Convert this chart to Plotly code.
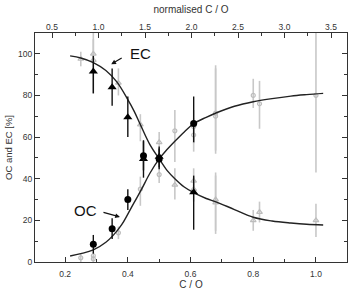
import plotly.graph_objects as go

# ---- data ----
# black: OC (circles) and EC (triangles)
oc_x = [0.29, 0.35, 0.40, 0.45, 0.50, 0.61]
oc_y = [8.5, 16.0, 30.0, 51.0, 49.5, 66.5]
oc_eplus = [4.5, 5.0, 5.0, 7.0, 5.0, 13.0]
oc_eminus = [4.5, 5.0, 5.0, 7.0, 5.0, 9.0]

ec_x = [0.29, 0.35, 0.40, 0.45, 0.50, 0.61]
ec_y = [91.5, 84.0, 69.5, 49.5, 50.5, 33.5]
ec_eplus = [7.5, 9.0, 10.0, 9.0, 5.0, 8.0]
ec_eminus = [10.5, 9.0, 9.5, 9.0, 5.0, 18.0]

# grey: second data set, OC (circles) and EC (triangles)
goc_x = [0.25, 0.29, 0.29, 0.37, 0.44, 0.50, 0.55, 0.61, 0.61, 0.68, 0.68, 0.80, 0.82, 1.00]
goc_y = [2.0, 3.0, 1.5, 14.0, 35.0, 42.0, 63.0, 65.0, 61.0, 71.5, 70.0, 80.0, 76.0, 80.0]
goc_eplus = [2.0, 2.0, 1.5, 3.0, 6.0, 4.0, 10.0, 8.0, 8.0, 23.0, 23.0, 8.0, 11.0, 30.0]
goc_eminus = [2.0, 2.0, 1.5, 3.0, 8.0, 4.0, 15.0, 8.0, 8.0, 18.0, 18.0, 6.0, 12.0, 37.0]

gec_x = [0.25, 0.29, 0.29, 0.37, 0.44, 0.50, 0.55, 0.61, 0.61, 0.68, 0.68, 0.80, 0.82, 1.00]
gec_y = [97.5, 100.0, 97.0, 86.0, 66.0, 57.5, 37.0, 39.0, 35.0, 30.0, 28.5, 20.0, 24.0, 20.0]
gec_eplus = [3.5, 12.0, 10.0, 7.0, 5.0, 5.0, 8.0, 6.0, 6.0, 13.0, 13.0, 5.0, 5.0, 8.0]
gec_eminus = [3.5, 19.0, 16.0, 6.0, 8.0, 5.0, 7.0, 6.0, 6.0, 15.0, 15.0, 5.0, 5.0, 8.0]

# fitted curves
ocfit_x = [0.216, 0.25, 0.29, 0.33, 0.354, 0.38, 0.40, 0.42, 0.444, 0.47, 0.50,
           0.525, 0.55, 0.58, 0.61, 0.65, 0.683, 0.74, 0.80, 0.86, 0.92, 0.97, 1.023]
ocfit_y = [2.9, 4.0, 5.8, 9.5, 12.9, 17.8, 23.0, 28.5, 35.0, 42.5, 49.5,
           54.0, 58.0, 62.5, 66.5, 69.5, 71.7, 74.8, 77.0, 78.5, 79.7, 80.4, 81.0]
ecfit_x = [0.216, 0.25, 0.29, 0.33, 0.365, 0.40, 0.42, 0.44, 0.47, 0.50, 0.525,
           0.55, 0.58, 0.61, 0.65, 0.683, 0.74, 0.80, 0.86, 0.92, 0.97, 1.023]
ecfit_y = [99.0, 98.0, 95.8, 92.0, 86.5, 78.0, 72.5, 66.0, 56.5, 49.5, 44.0,
           40.0, 36.0, 33.3, 30.5, 28.8, 25.2, 21.5, 19.7, 18.7, 18.1, 17.8]

bottom_ticks = [0.2, 0.4, 0.6, 0.8, 1.0]
top_ticks = [0.5, 1.0, 1.5, 2.0, 2.5, 3.0, 3.5]
y_ticks = [0, 20, 40, 60, 80, 100]

GREY = "#bdbdbd"
AX = "#333333"
FONT = "Liberation Sans, Arial, sans-serif"

fig = go.Figure()

def err(p, m, color, w):
    return dict(type="data", array=p, arrayminus=m, symmetric=False,
                color=color, thickness=w, width=0)

fig.add_trace(go.Scatter(x=goc_x, y=goc_y, mode="markers",
                         marker=dict(symbol="circle-open", size=4, color=GREY, line=dict(width=1.2)),
                         error_y=err(goc_eplus, goc_eminus, "#c8c8c8", 1.6), showlegend=False))
fig.add_trace(go.Scatter(x=gec_x, y=gec_y, mode="markers",
                         marker=dict(symbol="triangle-up-open", size=5, color=GREY, line=dict(width=1.2)),
                         error_y=err(gec_eplus, gec_eminus, "#c8c8c8", 1.6), showlegend=False))
fig.add_trace(go.Scatter(x=ocfit_x, y=ocfit_y, mode="lines", line=dict(color="#222", width=1.4, shape="spline"),
                         showlegend=False))
fig.add_trace(go.Scatter(x=ecfit_x, y=ecfit_y, mode="lines", line=dict(color="#222", width=1.4, shape="spline"),
                         showlegend=False))
fig.add_trace(go.Scatter(x=ec_x, y=ec_y, mode="markers",
                         marker=dict(symbol="triangle-up", size=8, color="black"),
                         error_y=err(ec_eplus, ec_eminus, "#111", 1.4), showlegend=False))
fig.add_trace(go.Scatter(x=oc_x, y=oc_y, mode="markers",
                         marker=dict(symbol="circle", size=7, color="black"),
                         error_y=err(oc_eplus, oc_eminus, "#111", 1.4), showlegend=False))
# invisible trace to carry the top axis
fig.add_trace(go.Scatter(x=[1.0], y=[50], xaxis="x2", mode="markers",
                         marker=dict(opacity=0), showlegend=False, hoverinfo="skip"))

tickfont = dict(family=FONT, size=8.5, color=AX)
fig.update_layout(
    width=352, height=290,
    margin=dict(l=35, r=5, t=33, b=28),
    paper_bgcolor="white", plot_bgcolor="white",
    font=dict(family=FONT, color=AX),
    xaxis=dict(range=[0.104, 1.099], tickvals=bottom_ticks, ticktext=["0.2", "0.4", "0.6", "0.8", "1.0"],
               ticks="inside", ticklen=5, tickwidth=1, tickcolor=AX, ticklabelstandoff=4,
               minor=dict(dtick=0.1, tick0=0, ticks="inside", ticklen=3, tickcolor=AX),
               showline=True, linecolor=AX, linewidth=1.2, mirror=True, showgrid=False, zeroline=False,
               tickfont=tickfont, automargin=False,
               title=dict(text="C / O", font=dict(family=FONT, size=10, color=AX), standoff=7)),
    xaxis2=dict(overlaying="x", side="top", range=[0.317, 3.672], tickvals=top_ticks,
                ticktext=["0.5", "1.0", "1.5", "2.0", "2.5", "3.0", "3.5"],
                ticks="inside", ticklen=5, tickwidth=1, tickcolor=AX, ticklabelstandoff=0,
                minor=dict(dtick=0.25, tick0=0, ticks="inside", ticklen=3, tickcolor=AX),
                showline=False, showgrid=False, zeroline=False, tickfont=tickfont, automargin=False,
                title=dict(text="normalised C / O", font=dict(family=FONT, size=10, color=AX), standoff=6)),
    yaxis=dict(range=[0, 110], tickvals=y_ticks, ticks="inside", ticklen=5, tickwidth=1, tickcolor=AX,
               minor=dict(dtick=10, tick0=0, ticks="inside", ticklen=3, tickcolor=AX),
               showline=True, linecolor=AX, linewidth=1.2, mirror="ticks", showgrid=False, zeroline=False,
               tickfont=tickfont, automargin=False,
               title=dict(text="OC and EC [%]", font=dict(family=FONT, size=9.5, color=AX), standoff=3)),
    annotations=[
        dict(x=0.439, y=100.2, xref="x", yref="y", text="EC", showarrow=False,
             font=dict(family=FONT, size=15, color="#111")),
        dict(x=0.347, y=95.0, xref="x", yref="y", text="", showarrow=True, ax=12, ay=-7,
             arrowhead=2, arrowsize=0.8, arrowwidth=1.2, arrowcolor="#111"),
        dict(x=0.264, y=24.9, xref="x", yref="y", text="OC", showarrow=False,
             font=dict(family=FONT, size=15, color="#111")),
        dict(x=0.375, y=21.6, xref="x", yref="y", text="", showarrow=True, ax=-18, ay=-5,
             arrowhead=2, arrowsize=0.8, arrowwidth=1.2, arrowcolor="#111"),
    ],
)

fig.write_html("out.html")
